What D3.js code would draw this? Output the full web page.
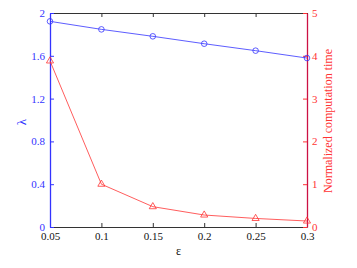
<!DOCTYPE html>
<html>
<head>
<meta charset="utf-8">
<script src="https://cdn.jsdelivr.net/npm/d3@7"></script>
<style>
body { margin: 0; background: #fff; }
</style>
</head>
<body>
<script>
// chart values
var epsilon = [0.05, 0.1, 0.15, 0.2, 0.25, 0.3];
var lambdaVals = [1.922, 1.847, 1.782, 1.713, 1.648, 1.579];
var timeVals = [3.88, 1.0, 0.475, 0.28, 0.20, 0.14];
var xTicks = [0.05, 0.1, 0.15, 0.2, 0.25, 0.3];
var leftTicks = [0, 0.4, 0.8, 1.2, 1.6, 2];
var rightTicks = [0, 1, 2, 3, 4, 5];

var W = 357, H = 268;
var margin = {left: 50, right: 50, top: 13, bottom: 41};
var width = W - margin.left - margin.right;
var height = H - margin.top - margin.bottom;
var blue = "#3333ff", red = "#ff3333";
var serif = "'Liberation Serif', 'Times New Roman', serif";

var svg = d3.select("body").append("svg")
    .attr("width", W).attr("height", H)
    .append("g")
    .attr("transform", "translate(" + margin.left + "," + margin.top + ")");

var x = d3.scaleLinear().domain([0.05, 0.3]).range([0, width]);
var yL = d3.scaleLinear().domain([0, 2]).range([height, 0]);
var yR = d3.scaleLinear().domain([0, 5]).range([height, 0]);

// bottom axis, ticks pointing inward
var xAxis = svg.append("g")
    .attr("font-family", serif)
    .attr("transform", "translate(0," + height + ")")
    .call(d3.axisBottom(x).tickValues(xTicks).tickSizeInner(-4).tickSizeOuter(0).tickPadding(5)
        .tickFormat(function (d) { return String(+d.toFixed(2)); }));
xAxis.attr("font-family", serif);
xAxis.select(".domain").attr("stroke", "#333");
xAxis.selectAll(".tick line").attr("stroke", "#333");
xAxis.selectAll("text").attr("fill", "#111").style("font-size", "11px").style("font-family", serif);

// top axis just ticks
var topAxis = svg.append("g")
    .call(d3.axisTop(x).tickValues(xTicks).tickSizeInner(-4).tickSizeOuter(0).tickFormat(""));
topAxis.select(".domain").attr("stroke", "#333");
topAxis.selectAll(".tick line").attr("stroke", "#333");

// left axis
var lAxis = svg.append("g")
    .call(d3.axisLeft(yL).tickValues(leftTicks).tickSizeInner(-4).tickSizeOuter(0).tickPadding(5)
        .tickFormat(function (d) { return String(+d.toFixed(1)); }));
lAxis.attr("font-family", serif);
lAxis.select(".domain").attr("stroke", blue).attr("stroke-width", 1.3);
lAxis.selectAll(".tick line").attr("stroke", blue);
lAxis.selectAll("text").attr("fill", blue).style("font-size", "11px").style("font-family", serif);

// right axis
var rAxis = svg.append("g")
    .attr("transform", "translate(" + width + ",0)")
    .call(d3.axisRight(yR).tickValues(rightTicks).tickSizeInner(-4).tickSizeOuter(0).tickPadding(5)
        .tickFormat(d3.format("d")));
rAxis.attr("font-family", serif);
rAxis.select(".domain").attr("stroke", "#cc1144").attr("stroke-width", 1.3);
rAxis.selectAll(".tick line").attr("stroke", red);
rAxis.selectAll("text").attr("fill", red).style("font-size", "11px").style("font-family", serif);

// axis labels
svg.append("text")
    .attr("x", width / 2).attr("y", height + 28)
    .attr("text-anchor", "middle").style("font-size", "12px").style("font-family", serif).attr("fill", "#111")
    .text("\u03b5");
svg.append("text")
    .attr("transform", "translate(-24," + (height / 2 + 2) + ") rotate(-90)")
    .attr("text-anchor", "middle").style("font-size", "13px").style("font-family", serif).attr("fill", blue)
    .text("\u03bb");
svg.append("text")
    .attr("transform", "translate(" + (width + 25) + "," + (height / 2 + 1) + ") rotate(-90)")
    .attr("text-anchor", "middle").style("font-size", "12px").style("font-family", serif).attr("fill", red)
    .text("Normalized computation time");

// lambda line
var lineL = d3.line().x(function (d, i) { return x(epsilon[i]); }).y(function (d) { return yL(d); });
svg.append("path").datum(lambdaVals)
    .attr("d", lineL).attr("fill", "none").attr("stroke", blue).attr("stroke-width", 0.8);
svg.selectAll(".circ").data(lambdaVals).enter().append("circle")
    .attr("cx", function (d, i) { return x(epsilon[i]); })
    .attr("cy", function (d) { return yL(d); })
    .attr("r", 2.8).attr("fill", "none").attr("stroke", blue).attr("stroke-width", 0.8);

// time line
var lineR = d3.line().x(function (d, i) { return x(epsilon[i]); }).y(function (d) { return yR(d); });
svg.append("path").datum(timeVals)
    .attr("d", lineR).attr("fill", "none").attr("stroke", red).attr("stroke-width", 0.8);
var tri = d3.symbol().type(d3.symbolTriangle).size(22);
svg.selectAll(".tri").data(timeVals).enter().append("path")
    .attr("transform", function (d, i) { return "translate(" + x(epsilon[i]) + "," + yR(d) + ")"; })
    .attr("d", tri).attr("fill", "none").attr("stroke", red).attr("stroke-width", 0.8);
</script>
</body>
</html>
